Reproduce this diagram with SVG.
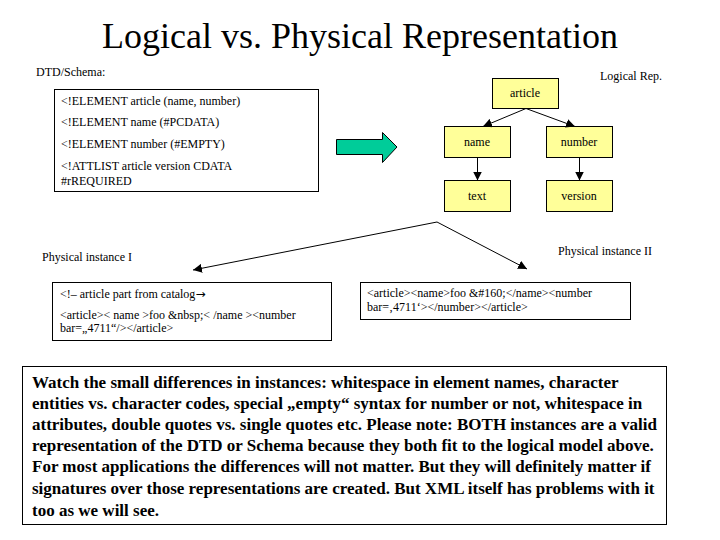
<svg xmlns="http://www.w3.org/2000/svg" width="720" height="540" viewBox="0 0 720 540">
<defs>
<style>
text{font-family:"Liberation Serif","Times New Roman",serif;fill:#000}
.sm{font-size:12px}
.node rect{fill:#FFFF99;stroke:#000;stroke-width:1}
.node text{font-size:12px;text-anchor:middle}
.box{fill:#fff;stroke:#000;stroke-width:1}
.con{stroke:#000;stroke-width:1;fill:none}
.body{font-size:17px;font-weight:bold}
.sym{font-family:"DejaVu Sans",sans-serif}
</style>
<marker id="ah" viewBox="0 0 10 10" refX="10" refY="5" markerWidth="9" markerHeight="9" markerUnits="userSpaceOnUse" orient="auto">
<path d="M0,0 L10,5 L0,10 z" fill="#000"/>
</marker>
</defs>
<rect width="720" height="540" fill="#fff"/>
<text x="360" y="48" font-size="36" text-anchor="middle">Logical vs. Physical Representation</text>

<g id="dtd">
<text class="sm" x="36" y="76">DTD/Schema:</text>
<rect class="box" x="54.5" y="89.5" width="264" height="102"/>
<text class="sm" x="61" y="105">&lt;!ELEMENT article (name, number)</text>
<text class="sm" x="61" y="126">&lt;!ELEMENT name (#PCDATA)</text>
<text class="sm" x="61" y="148">&lt;!ELEMENT number (#EMPTY)</text>
<text class="sm" x="61" y="170">&lt;!ATTLIST article version CDATA</text>
<text class="sm" x="61" y="185">#rREQUIRED</text>
</g>

<g id="bigarrow">
<path d="M336.5,139.5 L382.5,139.5 L382.5,132.5 L397,147 L382.5,162.5 L382.5,154.5 L336.5,154.5 z" fill="#00CC99" stroke="#000" stroke-width="1"/>
</g>

<text class="sm" x="600" y="80">Logical Rep.</text>

<g id="n-article" class="node"><rect x="492.5" y="78.5" width="66" height="30"/><text x="525" y="97">article</text></g>
<g id="n-name" class="node"><rect x="444.5" y="126.5" width="66" height="31"/><text x="477" y="146">name</text></g>
<g id="n-number" class="node"><rect x="546.5" y="126.5" width="66" height="31"/><text x="579" y="146">number</text></g>
<g id="n-text" class="node"><rect x="444.5" y="180.5" width="66" height="31"/><text x="477" y="200">text</text></g>
<g id="n-version" class="node"><rect x="546.5" y="180.5" width="66" height="31"/><text x="579" y="200">version</text></g>

<g id="connectors">
<line class="con" x1="526" y1="108.5" x2="483" y2="126.5" marker-end="url(#ah)"/>
<line class="con" x1="526" y1="108.5" x2="575" y2="126.5" marker-end="url(#ah)"/>
<line class="con" x1="477.5" y1="157.5" x2="477.5" y2="180.5" marker-end="url(#ah)"/>
<line class="con" x1="579.5" y1="157.5" x2="579.5" y2="180.5" marker-end="url(#ah)"/>
<line class="con" x1="437" y1="222" x2="193" y2="270" marker-end="url(#ah)"/>
<line class="con" x1="437" y1="222" x2="527" y2="269" marker-end="url(#ah)"/>
</g>

<g id="phys1">
<text class="sm" x="42" y="261">Physical instance I</text>
<rect class="box" x="52.5" y="282.5" width="279" height="58"/>
<text class="sm" x="60" y="298">&lt;!– article part from catalog<tspan class="sym">→</tspan></text>
<text class="sm" x="60" y="319">&lt;article&gt;&lt; name &gt;foo &amp;nbsp;&lt; /name &gt;&lt;number</text>
<text class="sm" x="60" y="332">bar=„4711“/&gt;&lt;/article&gt;</text>
</g>

<g id="phys2">
<text class="sm" x="558" y="255">Physical instance II</text>
<rect class="box" x="360.5" y="282.5" width="270" height="37"/>
<text class="sm" x="367" y="297">&lt;article&gt;&lt;name&gt;foo &amp;#160;&lt;/name&gt;&lt;number</text>
<text class="sm" x="367" y="311">bar=‚4711‘&gt;&lt;/number&gt;&lt;/article&gt;</text>
</g>

<g id="note">
<rect class="box" x="22.5" y="366.5" width="644" height="158"/>
<text class="body" x="32" y="388">Watch the small differences in instances: whitespace in element names, character</text>
<text class="body" x="32" y="409">entities vs. character codes, special „empty“ syntax for number or not, whitespace in</text>
<text class="body" x="32" y="430">attributes, double quotes vs. single quotes etc. Please note: BOTH instances are a valid</text>
<text class="body" x="32" y="451">representation of the DTD or Schema because they both fit to the logical model above.</text>
<text class="body" x="32" y="472">For most applications the differences will not matter. But they will definitely matter if</text>
<text class="body" x="32" y="494">signatures over those representations are created. But XML itself has problems with it</text>
<text class="body" x="32" y="516">too as we will see.</text>
</g>
</svg>
